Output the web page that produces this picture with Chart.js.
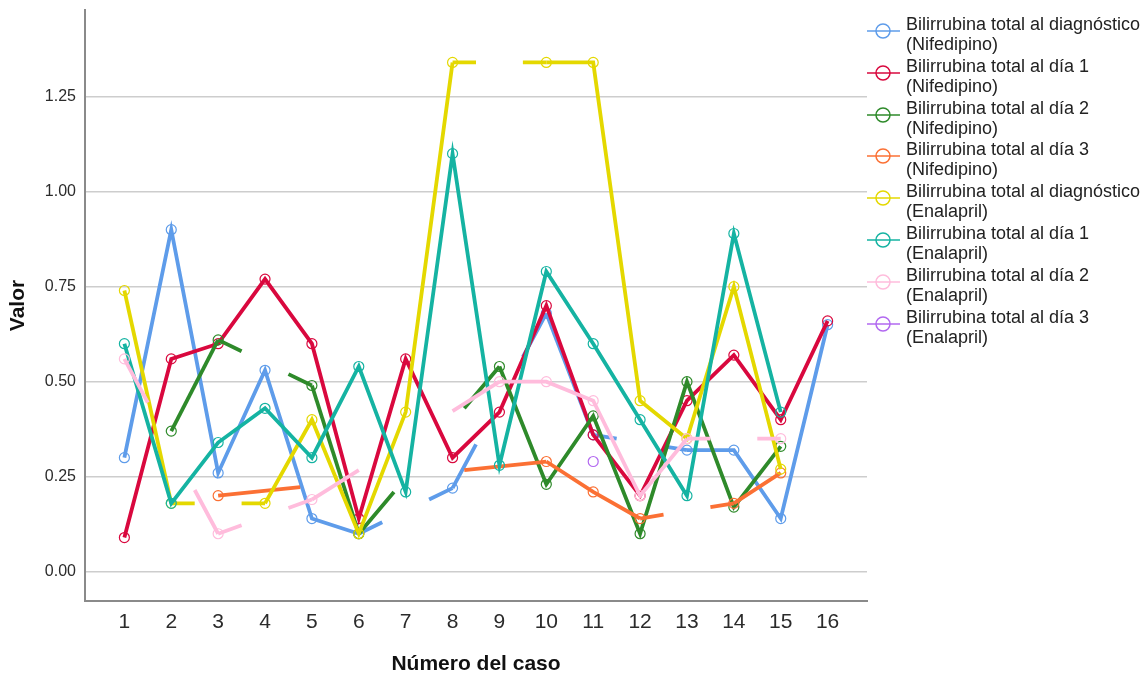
<!DOCTYPE html>
<html lang="es">
<head>
<meta charset="utf-8">
<title>Bilirrubina total por caso</title>
<script src="https://cdn.jsdelivr.net/npm/chart.js@4/dist/chart.umd.min.js"></script>
<style>
  html, body { margin: 0; background: #fff; }
  #wrap { position: relative; width: 1144px; height: 678px; }
  #legend { position: absolute; left: 866px; top: 0; font-family: 'Liberation Sans', Arial, sans-serif; font-size: 18px; color: #222; }
  .item { position: absolute; left: 0; white-space: nowrap; }
  .item svg { position: absolute; left: 0; top: 7px; }
  .item .txt { position: absolute; left: 40px; top: 0; line-height: 20px; }
</style>
</head>
<body>
<div id="wrap">
  <canvas id="chartBilirrubina" width="1144" height="678"></canvas>
  <div id="legend"></div>
</div>
<script>
// casos 1..16 y marcas del eje Y
const casos = [1, 2, 3, 4, 5, 6, 7, 8, 9, 10, 11, 12, 13, 14, 15, 16];
const yTicks = [0, 0.25, 0.5, 0.75, 1, 1.25];

// valores (null = caso sin dato)
const diagNifedipino = [0.30, 0.90, 0.26, 0.53, 0.14, 0.10, null, 0.22, null, 0.68, 0.36, null, 0.32, 0.32, 0.14, 0.65];
const dia1Nifedipino = [0.09, 0.56, 0.60, 0.77, 0.60, 0.14, 0.56, 0.30, 0.42, 0.70, 0.36, 0.20, 0.45, 0.57, 0.40, 0.66];
const dia2Nifedipino = [null, 0.37, 0.61, null, 0.49, 0.10, null, null, 0.54, 0.23, 0.41, 0.10, 0.50, 0.17, 0.33, null];
const dia3Nifedipino = [null, null, 0.20, null, null, null, null, null, null, 0.29, 0.21, 0.14, null, 0.18, 0.26, null];
const diagEnalapril = [0.74, 0.18, null, 0.18, 0.40, 0.10, 0.42, 1.34, null, 1.34, 1.34, 0.45, 0.35, 0.75, 0.27, null];
const dia1Enalapril = [0.60, 0.18, 0.34, 0.43, 0.30, 0.54, 0.21, 1.10, 0.28, 0.79, 0.60, 0.40, 0.20, 0.89, 0.42, null];
const dia2Enalapril = [0.56, null, 0.10, null, 0.19, null, null, null, 0.50, 0.50, 0.45, 0.20, 0.35, null, 0.35, null];
const dia3Enalapril = [null, null, null, null, null, null, null, null, null, null, 0.29, null, null, null, null, null];

const seriesValues = [diagNifedipino, dia1Nifedipino, dia2Nifedipino, dia3Nifedipino,
  diagEnalapril, dia1Enalapril, dia2Enalapril, dia3Enalapril];
const seriesLabels = [
  ['Bilirrubina total al diagnóstico', '(Nifedipino)'],
  ['Bilirrubina total al día 1', '(Nifedipino)'],
  ['Bilirrubina total al día 2', '(Nifedipino)'],
  ['Bilirrubina total al día 3', '(Nifedipino)'],
  ['Bilirrubina total al diagnóstico', '(Enalapril)'],
  ['Bilirrubina total al día 1', '(Enalapril)'],
  ['Bilirrubina total al día 2', '(Enalapril)'],
  ['Bilirrubina total al día 3', '(Enalapril)'],
];
const seriesColors = ['#5e9cea', '#d9083e', '#2e8a2a', '#fb7034', '#e4d800', '#15b3a2', '#ffbcdc', '#b268f0'];

// SPSS: cuando falta un caso solo pinta el primer y ultimo cuarto del tramo que lo cruza
function gapDash(ctx) {
  if (!ctx.p0.skip && !ctx.p1.skip) return undefined;
  const pts = ctx.chart.getDatasetMeta(ctx.datasetIndex).data;
  let a = ctx.p0DataIndex;
  let b = ctx.p1DataIndex;
  while (a > 0 && pts[a].skip) a--;
  while (b < pts.length - 1 && pts[b].skip) b++;
  const len = Math.hypot(pts[b].x - pts[a].x, pts[b].y - pts[a].y);
  return [len / 4, len / 2, len / 4, 0];
}

const datasets = seriesValues.map((vals, i) => ({
  label: seriesLabels[i].join(' '),
  data: casos.map((c, k) => ({ x: c, y: vals[k] })),
  borderColor: seriesColors[i],
  backgroundColor: 'rgba(255,255,255,0)',
  borderWidth: 3.8,
  pointRadius: 5,
  pointBorderWidth: 1.2,
  pointBorderColor: seriesColors[i],
  pointBackgroundColor: 'rgba(255,255,255,0)',
  spanGaps: true,
  order: seriesValues.length - i,
  segment: { borderDash: gapDash },
}));

const tickFont = { family: "'Liberation Sans', Arial, sans-serif", size: 16 };
const xTickFont = { family: "'Liberation Sans Narrow', 'Liberation Sans', Arial, sans-serif", size: 21 };
const titleFont = { family: "'Liberation Sans', Arial, sans-serif", size: 21, weight: 'bold' };

new Chart(document.getElementById('chartBilirrubina'), {
  type: 'line',
  data: { datasets },
  options: {
    responsive: false,
    animation: false,
    layout: { padding: { top: 10, right: 277, bottom: 0, left: 0 } },
    plugins: { legend: { display: false }, tooltip: { enabled: false } },
    scales: {
      x: {
        type: 'linear',
        min: 0.16,
        max: 16.84,
        afterBuildTicks: (s) => { s.ticks = casos.map((c) => ({ value: c })); },
        afterFit: (s) => { s.height = 77; s.paddingLeft = 0; s.paddingRight = 0; },
        grid: { display: false, drawTicks: false },
        border: { color: '#8a8a8a', width: 2 },
        ticks: { font: xTickFont, color: '#2b2b2b', padding: 9, maxRotation: 0, autoSkip: false, callback: (v) => String(v) },
        title: { display: true, text: 'Número del caso', font: titleFont, color: '#111', padding: { top: 0, bottom: 1 } },
      },
      y: {
        min: -0.077,
        max: 1.478,
        afterBuildTicks: (s) => { s.ticks = yTicks.map((v) => ({ value: v })); },
        afterFit: (s) => { s.width = 85; s.paddingTop = 0; s.paddingBottom = 0; },
        grid: { color: '#cdcdcd', lineWidth: 1.5, drawTicks: false },
        border: { color: '#8a8a8a', width: 2 },
        ticks: { font: tickFont, color: '#2b2b2b', padding: 9, callback: (v) => Number(v).toFixed(2) },
        title: { display: true, text: 'Valor', font: titleFont, color: '#111', padding: { top: 6, bottom: 4 } },
      },
    },
  },
});

// leyenda a la derecha, dos lineas por serie
const legend = document.getElementById('legend');
seriesLabels.forEach((lines, i) => {
  const item = document.createElement('div');
  item.className = 'item';
  item.style.top = (14 + i * 41.8) + 'px';
  item.innerHTML =
    '<svg width="36" height="20"><line x1="1" y1="10" x2="34" y2="10" stroke="' + seriesColors[i] + '" stroke-width="1.5"/>' +
    '<circle cx="17" cy="10" r="7" fill="none" stroke="' + seriesColors[i] + '" stroke-width="1.5"/></svg>' +
    '<div class="txt">' + lines.join('<br>') + '</div>';
  legend.appendChild(item);
});
</script>
</body>
</html>
